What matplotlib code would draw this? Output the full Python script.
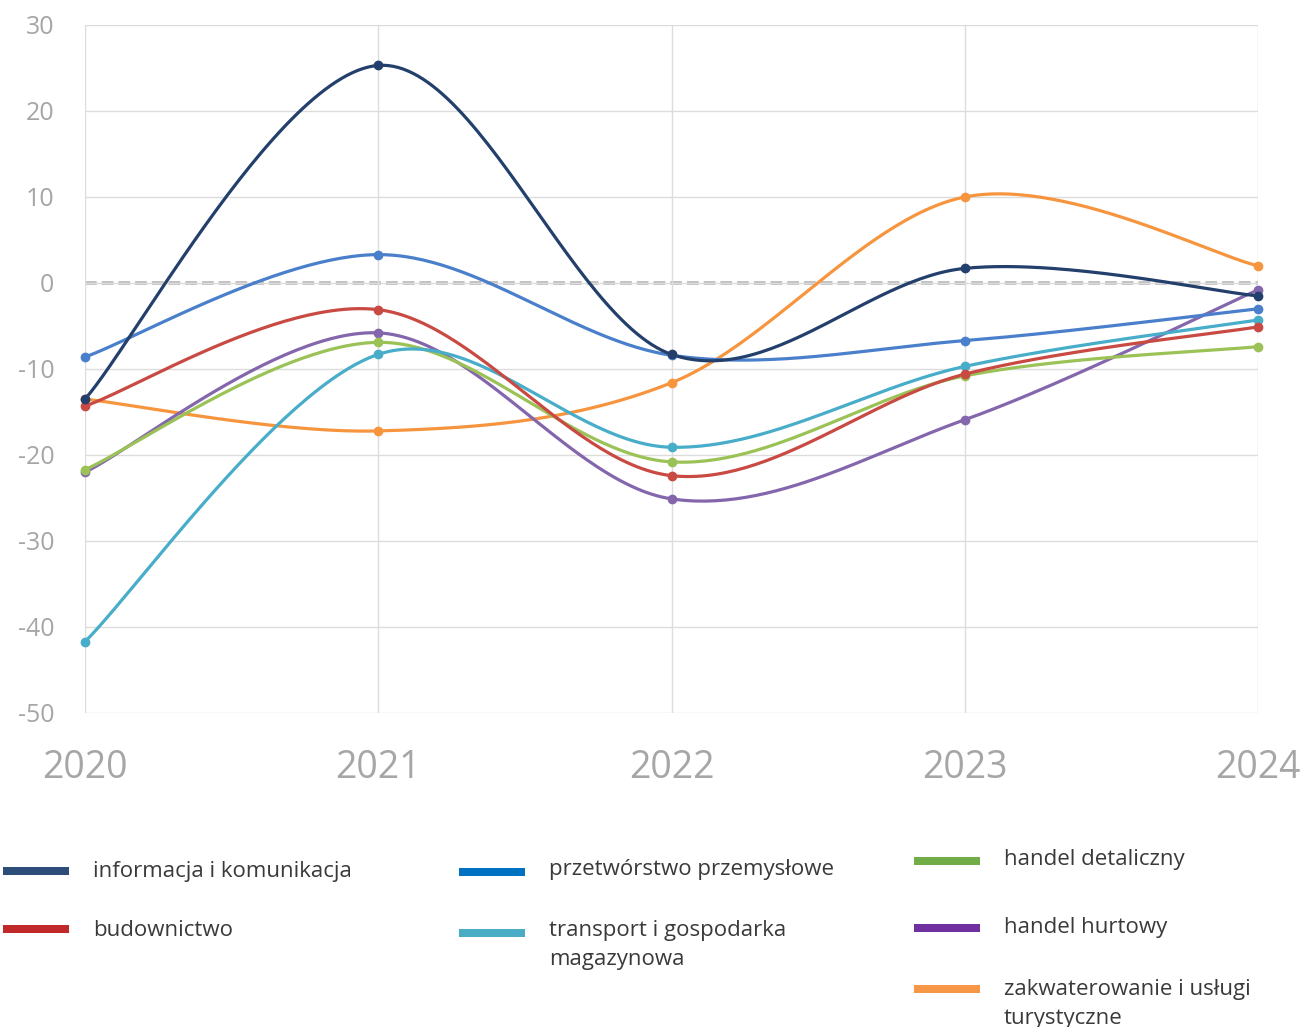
import matplotlib.pyplot as plt
import numpy as np
from matplotlib.patches import Rectangle

plt.rcParams["axes.unicode_minus"] = False

years = [2020, 2021, 2022, 2023, 2024]

informacja = [-13.5, 25.3, -8.3, 1.7, -1.5]
przetworstwo = [-8.6, 3.3, -8.4, -6.7, -3.0]
budownictwo = [-14.3, -3.1, -22.4, -10.6, -5.1]
transport = [-41.7, -8.3, -19.1, -9.7, -4.3]
detaliczny = [-21.7, -6.9, -20.8, -10.8, -7.4]
hurtowy = [-22.0, -5.8, -25.1, -15.9, -0.8]
zakwaterowanie = [-13.5, -17.2, -11.6, 10.0, 2.0]

y_ticks = [-50, -40, -30, -20, -10, 0, 10, 20, 30]

# (label, values, line colour, legend colour)
SERIES = [
    ("zakwaterowanie i usługi\nturystyczne", zakwaterowanie, "#f7953f", "#f79646"),
    ("handel hurtowy", hurtowy, "#8466ad", "#7030a0"),
    ("handel detaliczny", detaliczny, "#9bc256", "#70ad47"),
    ("transport i gospodarka\nmagazynowa", transport, "#47adc9", "#4bacc6"),
    ("budownictwo", budownictwo, "#c84a42", "#c0282a"),
    ("przetwórstwo przemysłowe", przetworstwo, "#4a7fcb", "#0070c0"),
    ("informacja i komunikacja", informacja, "#233f6b", "#2e4d7b"),
]


def smooth(x, y, n=60):
    """Excel-like smoothed line: Catmull-Rom segments as cubic Beziers."""
    p = np.column_stack([x, y]).astype(float)
    pts = np.vstack([p[0], p, p[-1]])
    out = []
    t = np.linspace(0, 1, n)[:, None]
    for i in range(1, len(pts) - 2):
        p0, p1, p2, p3 = pts[i - 1], pts[i], pts[i + 1], pts[i + 2]
        c1 = p1 + (p2 - p0) / 6.0
        c2 = p2 - (p3 - p1) / 6.0
        seg = ((1 - t) ** 3) * p1 + 3 * ((1 - t) ** 2) * t * c1 \
            + 3 * (1 - t) * t ** 2 * c2 + t ** 3 * p2
        out.append(seg if i == 1 else seg[1:])
    c = np.vstack(out)
    return c[:, 0], c[:, 1]


W, H = 1306, 1027
fig = plt.figure(figsize=(W / 100, H / 100), dpi=100)
ax = fig.add_axes([85 / W, 1 - 713 / H, (1258 - 85) / W, (713 - 25) / H])

ax.set_xlim(2020, 2024)
ax.set_ylim(-50, 30)
ax.set_xticks(years)
ax.set_yticks(y_ticks)
ax.grid(True, color="#dcdcdc", lw=1.0, zorder=0)
for s in ax.spines.values():
    s.set_visible(False)
ax.tick_params(length=0)
ax.tick_params(axis="y", pad=22, labelsize=18, labelcolor="#a6a6a6")
ax.tick_params(axis="x", pad=26, labelsize=27, labelcolor="#a6a6a6")
for lab in ax.get_xticklabels() + ax.get_yticklabels():
    lab.set_fontfamily("Open Sans")

ax.axhline(0, color="#c0c0c0", lw=2.8, dashes=(3.0, 1.3), zorder=1)

for label, vals, lc, _ in SERIES:
    xs, ys = smooth(years, vals)
    ax.plot(xs, ys, color=lc, lw=2.3, zorder=3, solid_capstyle="round")
    ax.plot(years, vals, "o", color=lc, ms=6, zorder=4, clip_on=False)

# legend, laid out in three columns like the original
legend_pos = {
    "informacja i komunikacja": (3, 871, 871),
    "budownictwo": (3, 929, 931),
    "przetwórstwo przemysłowe": (459, 872, 869),
    "transport i gospodarka\nmagazynowa": (459, 933, 945),
    "handel detaliczny": (914, 861, 860),
    "handel hurtowy": (914, 928, 928),
    "zakwaterowanie i usługi\nturystyczne": (914, 989, 1004),
}
for label, _, _, legc in SERIES:
    hx, hy, ty = legend_pos[label]
    fig.add_artist(Rectangle((hx / W, 1 - (hy + 4) / H), 66 / W, 8 / H,
                             transform=fig.transFigure, color=legc, lw=0))
    fig.text((hx + 90) / W, 1 - ty / H, label, fontsize=16,
             family="Open Sans", color="#3a3a3a", va="center", ha="left",
             linespacing=1.45)

fig.savefig("out.png", dpi=100, facecolor="white")
